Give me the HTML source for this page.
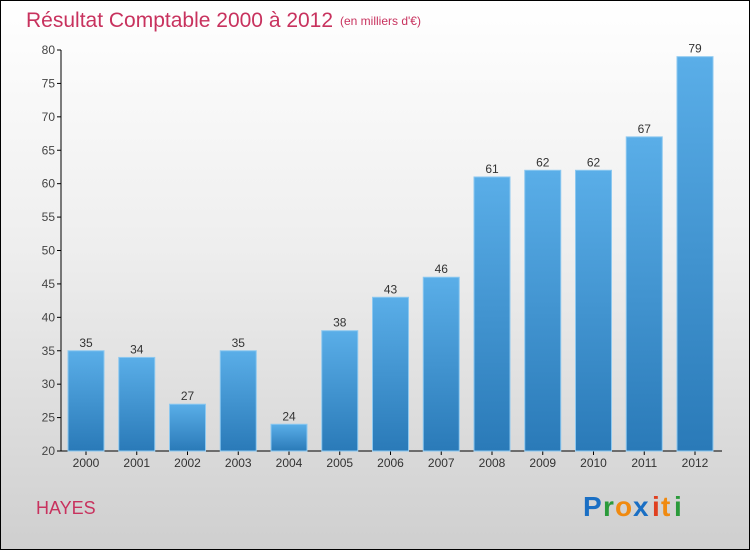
<!DOCTYPE html>
<html><head><meta charset="utf-8"><style>
html,body{margin:0;padding:0}
body{width:750px;height:550px;overflow:hidden;font-family:"Liberation Sans",sans-serif}
</style></head><body>
<svg id="chart" width="750" height="550" xmlns="http://www.w3.org/2000/svg">
<defs>
<linearGradient id="bg" x1="0" y1="0" x2="0" y2="1"><stop offset="0" stop-color="#ffffff"/><stop offset="0.45" stop-color="#eeeeee"/><stop offset="1" stop-color="#cfcfcf"/></linearGradient>
<linearGradient id="bar" x1="0" y1="0" x2="0" y2="1"><stop offset="0" stop-color="#5aaee8"/><stop offset="1" stop-color="#2a7ab8"/></linearGradient>
</defs>
<rect x="0.5" y="0.5" width="749" height="549" fill="url(#bg)" stroke="#000"/>
<text x="26" y="27" font-size="21" fill="#c8325e">Résultat Comptable 2000 à 2012</text>
<text x="340" y="25" font-size="12" fill="#c8325e">(en milliers d'€)</text>
<g id="axes"></g>
<g id="bars"></g>
<text x="36" y="514" font-size="18" fill="#c8325e">HAYES</text>
<g font-size="28" font-weight="bold" font-family="'Liberation Sans',sans-serif">
<text x="583" y="516" fill="#1a6fc4">P</text><text x="603" y="516" fill="#2a9a3a">r</text><text x="615" y="516" fill="#f08a10">o</text><text x="633" y="516" fill="#1a6fc4">x</text><text x="652" y="516" fill="#e04020">i</text><text x="661" y="516" fill="#f08a10">t</text><text x="674" y="516" fill="#2a9a3a">i</text>
</g>
</svg>
<script>
const categories=["2000","2001","2002","2003","2004","2005","2006","2007","2008","2009","2010","2011","2012"];
const values=[35,34,27,35,24,38,43,46,61,62,62,67,79];
const yTicks=[20,25,30,35,40,45,50,55,60,65,70,75,80];
const NS="http://www.w3.org/2000/svg";
const yMin=20,yMax=80,plotTop=50,plotBottom=451,plotLeft=61;
const y=v=>plotBottom-(v-yMin)/(yMax-yMin)*(plotBottom-plotTop);
const x=i=>86+i*50.75;
const bw=36;
function mk(t,a,p){const e=document.createElementNS(NS,t);for(const k in a)e.setAttribute(k,a[k]);p.appendChild(e);return e;}
const ax=document.getElementById('axes'),bs=document.getElementById('bars');
const yl=mk('line',{x1:plotLeft,y1:plotTop,x2:plotLeft,y2:plotBottom,stroke:'#000'},ax);


const xl=mk('line',{x1:plotLeft,y1:plotBottom,x2:722,y2:plotBottom,stroke:'#000'},ax);


yTicks.forEach(t=>{
 const tk=mk('line',{x1:plotLeft-4,y1:y(t),x2:plotLeft,y2:y(t),stroke:'#000'},ax);
 
 
 const l=mk('text',{x:plotLeft-6,y:y(t)+4,'font-size':12,fill:'#444','text-anchor':'end'},ax);
 l.textContent=t;
 
 
});
categories.forEach((c,i)=>{
 const v=values[i];
 const r=mk('rect',{x:x(i)-bw/2,y:y(v),width:bw,height:plotBottom-y(v),fill:'url(#bar)',stroke:'#8cc8f0','stroke-width':1},bs);
 
 
 const vl=mk('text',{x:x(i),y:y(v)-4,'font-size':12,fill:'#333','text-anchor':'middle'},bs);
 vl.textContent=v;
 
 
 const tk=mk('line',{x1:x(i),y1:plotBottom,x2:x(i),y2:plotBottom+4,stroke:'#000'},ax);
 
 
 const xl2=mk('text',{x:x(i),y:plotBottom+16,'font-size':12,fill:'#333','text-anchor':'middle'},ax);
 xl2.textContent=c;
 
 
});
</script>
</body></html>
